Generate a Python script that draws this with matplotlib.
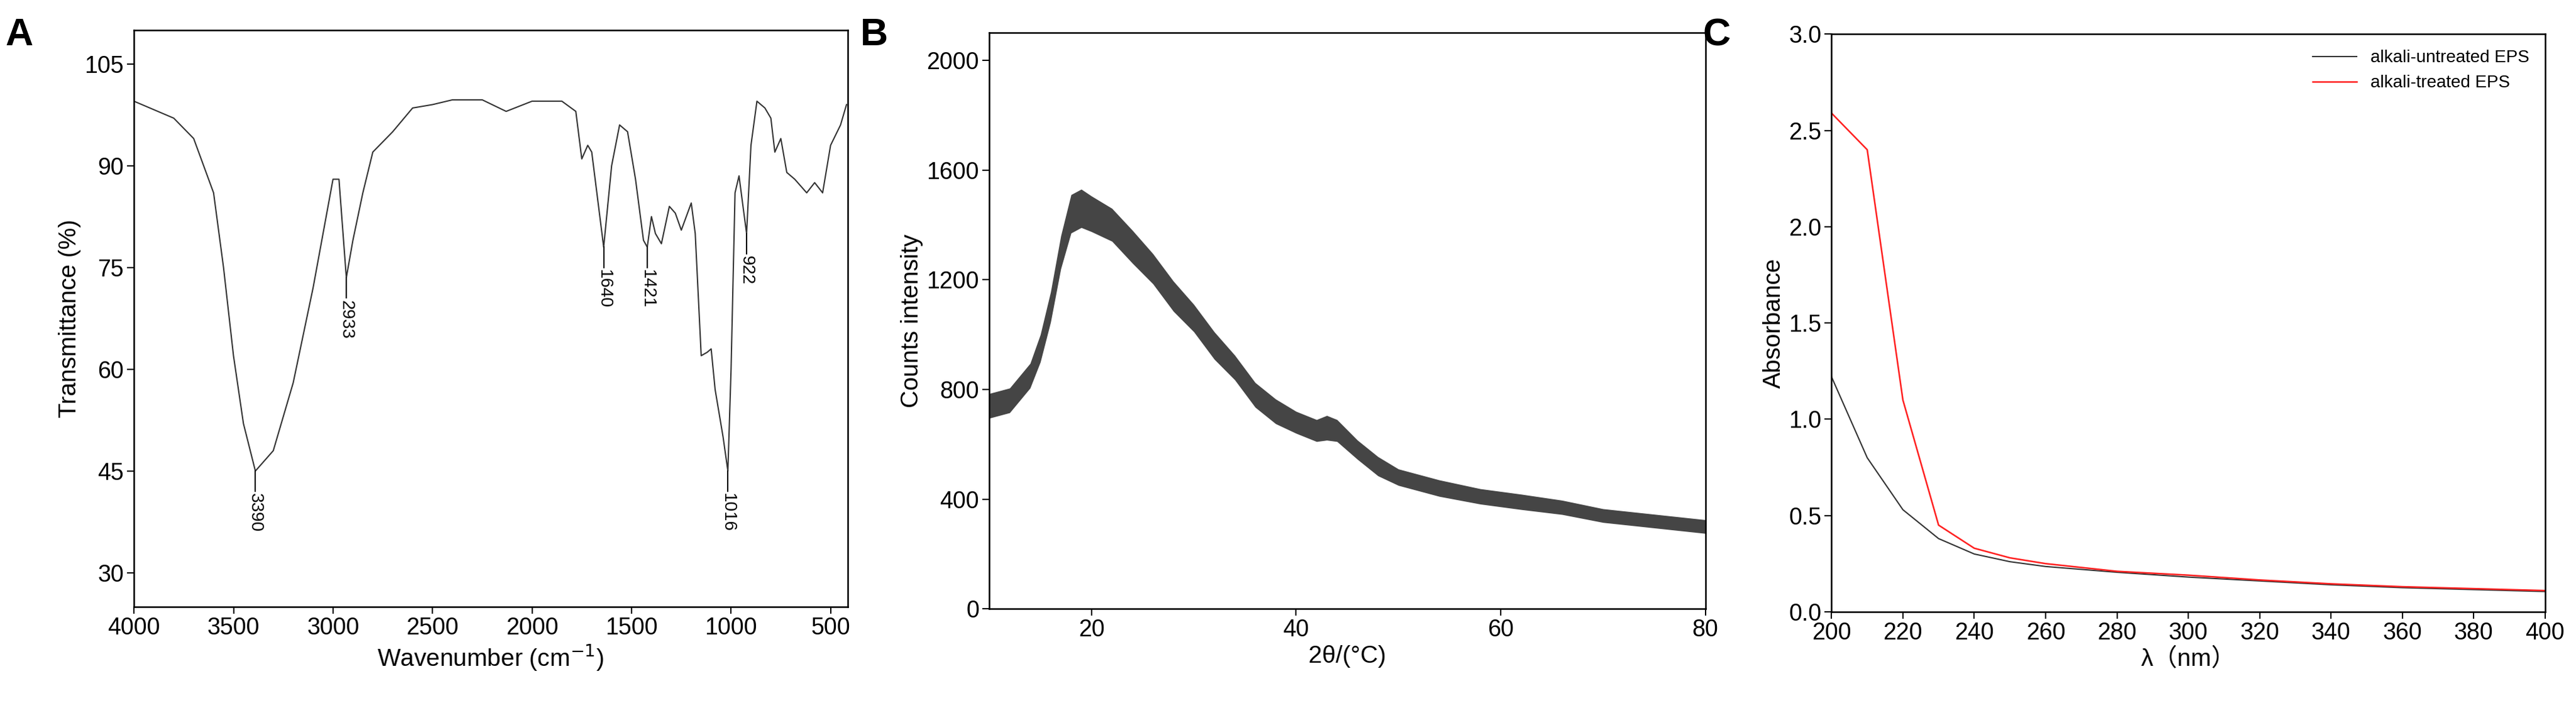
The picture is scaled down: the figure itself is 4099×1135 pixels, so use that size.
import matplotlib
matplotlib.use('Agg')
import matplotlib.pyplot as plt
import numpy as np

plt.rcParams['font.family'] = ['Liberation Sans', 'Noto Sans CJK SC', 'DejaVu Sans']

# FTIR
wn = [4000, 3800, 3700, 3600, 3550, 3500, 3450, 3390, 3300, 3200, 3100, 3050, 3000, 2970,
      2933, 2900, 2850, 2800, 2700, 2600, 2500, 2400, 2250, 2130, 2000, 1850, 1780, 1750,
      1720, 1700, 1640, 1600, 1560, 1520, 1480, 1440, 1421, 1400, 1380, 1350, 1310, 1280,
      1250, 1200, 1180, 1150, 1120, 1100, 1080, 1040, 1016, 1000, 980, 960, 940, 922, 900,
      870, 830, 800, 780, 750, 720, 680, 620, 580, 540, 500, 450, 420]
trans = [99.5, 97, 94, 86, 75, 62, 52, 45, 48, 58, 72, 80, 88, 88,
         73.5, 79, 86, 92, 95, 98.5, 99, 99.7, 99.7, 98, 99.5, 99.5, 98, 91,
         93, 92, 78, 90, 96, 95, 88, 79, 78, 82.5, 80, 78.5, 84, 83,
         80.5, 84.5, 80, 62, 62.5, 63, 57, 50, 45, 60, 86, 88.5, 84, 80, 93,
         99.5, 98.5, 97, 92, 94, 89, 88, 86, 87.5, 86, 93, 96, 99]
peak_wn = [3390, 2933, 1640, 1421, 1016, 922]
peak_t = [45, 73.5, 78, 78, 45, 80]

# XRD
theta = [10, 12, 14, 15, 16, 17, 18, 19, 20, 22, 24, 26, 28, 30, 32, 34, 36, 38, 40, 42,
         43, 44, 46, 48, 50, 54, 58, 62, 66, 70, 75, 80]
counts = [740, 760, 850, 950, 1100, 1300, 1440, 1460, 1440, 1400, 1320, 1240, 1140, 1060,
          960, 880, 780, 720, 680, 650, 660, 650, 580, 520, 480, 440, 410, 390, 370, 340, 320, 300]
spread = [45, 45, 45, 50, 55, 60, 70, 70, 65, 60, 60, 55, 55, 50,
          50, 45, 45, 45, 40, 40, 45, 40, 35, 35, 30, 30, 28, 28, 26, 25, 25, 25]

# UV
wl = [200, 210, 220, 230, 240, 250, 260, 280, 300, 320, 340, 360, 380, 400]
untreated = [1.22, 0.80, 0.53, 0.38, 0.30, 0.26, 0.235, 0.205, 0.18, 0.16, 0.14, 0.125, 0.115, 0.105]
treated = [2.59, 2.40, 1.10, 0.45, 0.33, 0.28, 0.25, 0.21, 0.19, 0.165, 0.145, 0.13, 0.12, 0.11]

fig = plt.figure(figsize=(40.99, 11.35), dpi=100)
axA = fig.add_axes([0.052, 0.149, 0.277, 0.809])
axB = fig.add_axes([0.384, 0.146, 0.278, 0.808])
axC = fig.add_axes([0.711, 0.142, 0.277, 0.810])

tick_fs = 27
lab_fs = 28
for ax in (axA, axB, axC):
    ax.tick_params(labelsize=tick_fs, direction='out', length=8, width=1.5)
    for s in ax.spines.values():
        s.set_linewidth(1.8)

axA.plot(wn, trans, color='#333333', lw=1.5)
for w, t in zip(peak_wn, peak_t):
    axA.plot([w, w], [t, t - 3], color='black', lw=1.5)
    axA.text(w, t - 3.3, str(w), rotation=270, ha='center', va='top', fontsize=20)
axA.set_xlim(4000, 415)
axA.set_ylim(25, 110)
axA.set_yticks([30, 45, 60, 75, 90, 105])
axA.set_xticks([4000, 3500, 3000, 2500, 2000, 1500, 1000, 500])
axA.set_xlabel('Wavenumber (cm$^{-1}$)', fontsize=lab_fs)
axA.set_ylabel('Transmittance (%)', fontsize=lab_fs)

c = np.array(counts)
sp = np.array(spread)
axB.fill_between(theta, c - sp, c + sp, color='#454545', lw=0)
axB.plot(theta, c, color='#454545', lw=3)
axB.set_xlim(10, 80)
axB.set_ylim(0, 2100)
axB.set_xticks([20, 40, 60, 80])
axB.set_yticks([0, 400, 800, 1200, 1600, 2000])
axB.set_xlabel('2θ/(°C)', fontsize=lab_fs)
axB.set_ylabel('Counts intensity', fontsize=lab_fs)

axC.plot(wl, untreated, color='#333333', lw=1.5, label='alkali-untreated EPS')
axC.plot(wl, treated, color='#ff2020', lw=1.8, label='alkali-treated EPS')
axC.set_xlim(200, 400)
axC.set_ylim(0, 3.0)
axC.set_xticks(range(200, 401, 20))
axC.set_yticks([0, 0.5, 1.0, 1.5, 2.0, 2.5, 3.0])
axC.yaxis.set_major_formatter(matplotlib.ticker.FormatStrFormatter('%.1f'))
axC.set_xlabel('λ（nm）', fontsize=lab_fs)
axC.set_ylabel('Absorbance', fontsize=lab_fs)
axC.legend(loc='upper right', frameon=False, fontsize=20, handlelength=2.5)

for ax, letter in ((axA, 'A'), (axB, 'B'), (axC, 'C')):
    pos = ax.get_position()
    fig.text(pos.x0 - 0.05, 0.975, letter, fontsize=44, fontweight='bold', va='top')

fig.savefig('out.png', dpi=100)
